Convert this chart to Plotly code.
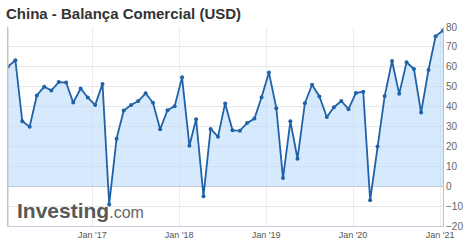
import plotly.graph_objects as go
import pandas as pd

# Trade balance values (USD bn), one per monthly release, Jan 2016 .. Jan 2021
values = [
    60.1, 63.3, 32.6, 29.9, 45.6, 50.0, 48.1, 52.3, 52.1, 42.0, 49.1, 44.6,
    40.8, 51.4, -9.2, 23.9, 38.0, 40.8, 42.8, 46.7, 41.9, 28.6, 38.2, 40.2,
    54.7, 20.3, 33.7, -5.0, 28.8, 24.9, 41.6, 28.1, 27.9, 31.7, 34.0, 44.7,
    57.1, 39.2, 4.1, 32.6, 13.8, 41.7, 51.0, 45.1, 34.8, 39.7, 42.8, 38.7,
    46.8, 47.5, -7.1, 19.9, 45.3, 62.9, 46.4, 62.3, 58.9, 37.0, 58.4, 75.4,
    78.2,
]
months = list(pd.date_range("2016-01-01", periods=61, freq="MS") + pd.Timedelta(days=12))

y_ticks = [80, 70, 60, 50, 40, 30, 20, 10, 0, -10, -20]
title_text = "China - Balança Comercial (USD)"

W, H = 470, 247
ml, mr, mt, mb = 7, 25, 27, 20
pw, ph = W - ml - mr, H - mt - mb

def px_x(x):
    return (x - ml) / pw

def px_y(y):
    return (H - mb - y) / ph

fig = go.Figure()
fig.add_trace(go.Scatter(
    x=months, y=values, mode="lines+markers",
    line=dict(color="#2062a8", width=1.8),
    marker=dict(color="#2062a8", size=4),
    fill="tozeroy", fillcolor="rgba(186,218,252,0.6)",
    hoverinfo="skip",
))

fig.update_layout(
    width=W, height=H,
    margin=dict(l=ml, r=mr, t=mt, b=mb),
    paper_bgcolor="white", plot_bgcolor="white",
    showlegend=False,
    font=dict(family="Liberation Sans, Arial, sans-serif", color="#555"),
    xaxis=dict(
        type="date",
        range=[months[0], months[-1]],
        tickformat="%b '%y", dtick="M12", tick0="2017-01-01",
        showgrid=True, gridcolor="#ececec", gridwidth=1,
        showline=True, linecolor="#c4cfe4", linewidth=1, mirror=False,
        ticks="", tickfont=dict(size=9, color="#555"),
        zeroline=False,
    ),
    yaxis=dict(
        range=[-20, 80], side="right",
        tickvals=y_ticks,
        showgrid=True, gridcolor="#e8e8e8", gridwidth=1,
        zeroline=True, zerolinecolor="#c8c8c8", zerolinewidth=1,
        showline=True, linecolor="#bdbdbd", linewidth=1, mirror=True,
        ticks="", tickfont=dict(size=10, color="#666"),
    ),
    shapes=[dict(type="line", xref="paper", yref="paper", x0=0, x1=0, y0=0, y1=1,
                 line=dict(color="#c8c8c8", width=1))],
    annotations=[
        dict(text="<b>" + title_text + "</b>", xref="paper", yref="paper",
             x=px_x(3), y=px_y(13), xanchor="left", yanchor="middle",
             showarrow=False, font=dict(size=15, color="#333")),
        dict(text="<b>Investing</b><span style='font-size:16px;color:#666'>.com</span>",
             xref="paper", yref="paper",
             x=px_x(14), y=px_y(211), xanchor="left", yanchor="middle",
             showarrow=False, font=dict(size=21, color="#585858")),
    ],
)

fig.write_html("out.html")
